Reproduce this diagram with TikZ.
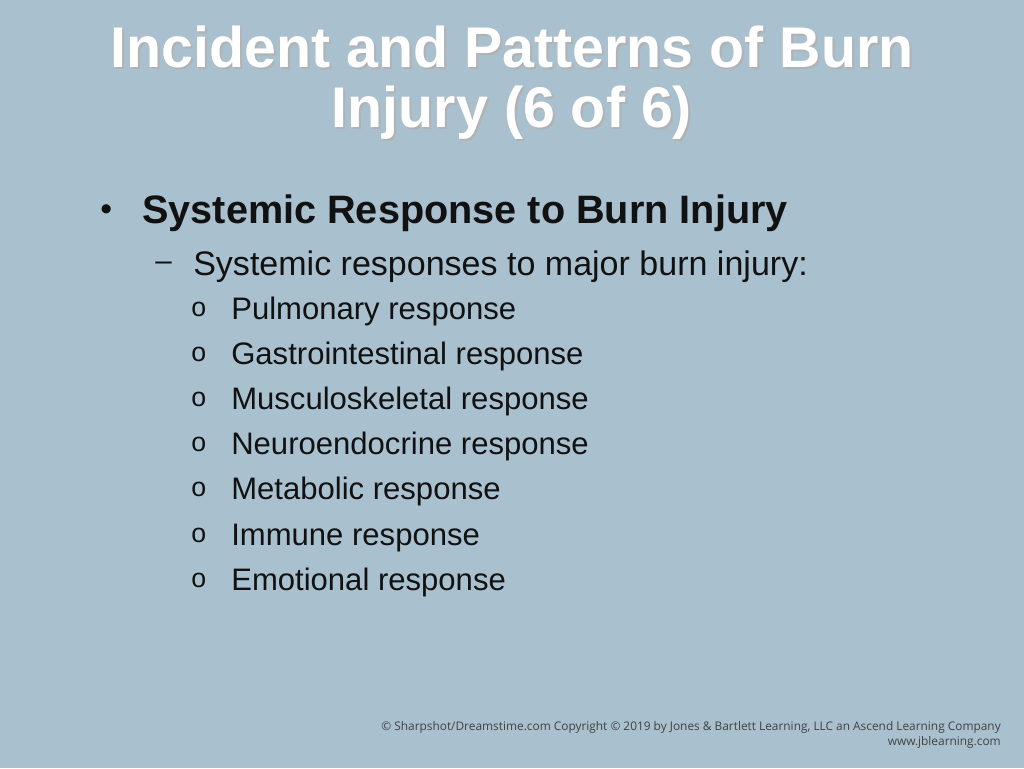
\documentclass[tikz,border=0pt]{standalone}
\usepackage{fontspec}
\setmainfont{Liberation Sans}
\newfontfamily\footfont{Open Sans}
\definecolor{slidebg}{HTML}{A9C0CF}
\definecolor{inktext}{HTML}{111111}
\begin{document}
\begin{tikzpicture}[x=0.25mm,y=-0.25mm]
  \tikzset{title/.style = {text=white,font=\fontsize{40.8}{48}\selectfont\bfseries,inner sep=0pt,anchor=base}}
  \tikzset{shadow/.style = {text=black!30,font=\fontsize{40.8}{48}\selectfont\bfseries,inner sep=0pt,anchor=base}}
  \tikzset{item/.style = {text=inktext,font=\fontsize{22.1}{26}\selectfont,inner sep=0pt,anchor=base west}}
  \tikzset{omark/.style = {text=inktext,font=\fontsize{19}{22}\selectfont,inner sep=0pt,anchor=base west}}
  \tikzset{foot/.style = {text=inktext!80,font=\fontsize{8.45}{10}\footfont,inner sep=0pt,anchor=base east}}

  \fill[slidebg] (0,0) rectangle (1024,768);
  \useasboundingbox (0,0) rectangle (1024,768);

  % title with soft shadow
  \node[shadow] (tsa) at (514,69) {Incident and Patterns of Burn};
  \node[shadow] (tsb) at (514,129) {Injury (6 of 6)};
  \node[title] (ta) at (512,67) {Incident and Patterns of Burn};
  \node[title] (tb) at (512,127) {Injury (6 of 6)};

  % first level
  \node[text=inktext,font=\fontsize{24}{28}\selectfont,inner sep=0pt,anchor=base west] (b1) at (100,220) {\textbullet};
  \node[text=inktext,font=\fontsize{28.2}{33}\selectfont\bfseries,inner sep=0pt,anchor=base west] (s1) at (142,223) {Systemic Response to Burn Injury};
  % second level
  \node[text=inktext,font=\fontsize{21}{25}\selectfont,inner sep=0pt,anchor=base west] (d1) at (155,270) {--};
  \node[text=inktext,font=\fontsize{24.2}{29}\selectfont,inner sep=0pt,anchor=base west] (s2) at (193,275) {Systemic responses to major burn injury:};
  % third level
  \foreach \i/\txt in {0/Pulmonary response,1/Gastrointestinal response,2/Musculoskeletal response,3/Neuroendocrine response,4/Metabolic response,5/Immune response,6/Emotional response}{
    \node[omark] (o\i) at (191,{316+45.2*\i}) {o};
    \node[item] (r\i) at (231,{319+45.2*\i}) {\txt};
  }

  % footer
  \node[foot] (f1) at (1001,730) {\textcopyright{} Sharpshot/Dreamstime.com Copyright \textcopyright{} 2019 by Jones \& Bartlett Learning, LLC an Ascend Learning Company};
  \node[foot] (f2) at (1001,745) {www.jblearning.com};
\end{tikzpicture}
\end{document}
